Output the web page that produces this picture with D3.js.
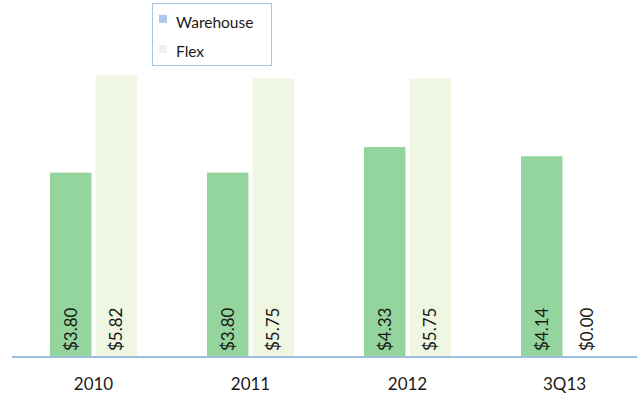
<!DOCTYPE html>
<html>
<head>
<meta charset="utf-8">
<script src="https://cdn.jsdelivr.net/npm/d3@7"></script>
<style>
  html, body { margin: 0; padding: 0; background: #fff; }
  svg { display: block; }
  text { font-family: Lato, "Open Sans", sans-serif; }
</style>
</head>
<body>
<svg id="chart" width="637" height="398"></svg>
<script>
const categories = ["2010", "2011", "2012", "3Q13"];
const seriesNames = ["Warehouse", "Flex"];
const warehouse = [3.80, 3.80, 4.33, 4.14];
const flex = [5.82, 5.75, 5.75, 0.00];
const seriesColors = ["#93d59c", "#eff7e2"];
const legendSwatches = ["#abc9ea", "#f1f2ef"];

const values = [warehouse, flex];
const svg = d3.select("#chart");
const baseY = 356;

const x0 = d3.scaleBand().domain(categories).range([15, 643]).paddingInner(0).paddingOuter(0);
const x1 = d3.scaleBand().domain(seriesNames).range([35, 122]).paddingInner(0.09);
const y = d3.scaleLinear().domain([0, 6]).range([baseY, baseY - 289.5]);

const groups = svg.selectAll("g.cat")
  .data(categories)
  .join("g")
  .attr("class", "cat")
  .attr("transform", d => `translate(${x0(d)},0)`);

seriesNames.forEach((name, si) => {
  groups.append("rect")
    .attr("x", x1(name))
    .attr("width", x1.bandwidth())
    .attr("y", (d, i) => y(values[si][i]))
    .attr("height", (d, i) => baseY - y(values[si][i]))
    .attr("fill", seriesColors[si]);

  groups.append("text")
    .attr("transform", () => `translate(${x1(name) + x1.bandwidth() / 2 + 6},${baseY - 5}) rotate(-90)`)
    .attr("font-size", 17)
    .attr("fill", "#1a1a1a")
    .text((d, i) => "$" + values[si][i].toFixed(2));
});

// baseline axis
svg.append("line")
  .attr("x1", 12).attr("x2", 637)
  .attr("y1", baseY + 1).attr("y2", baseY + 1)
  .attr("stroke", "#9cbde2").attr("stroke-width", 2);

// category labels
const xAxis = d3.axisBottom(x0).tickSize(0).tickPadding(0);
const ax = svg.append("g").attr("transform", `translate(0,${baseY + 22})`).call(xAxis);
ax.select(".domain").remove();
ax.selectAll("text")
  .attr("font-size", 17)
  .attr("fill", "#1a1a1a")
  .attr("font-family", "Lato, 'Open Sans', sans-serif")
  .attr("dy", "0.71em");

// legend
const lg = svg.append("g");
lg.append("rect")
  .attr("x", 152.5).attr("y", 3.5).attr("width", 119).attr("height", 62)
  .attr("fill", "#fff").attr("stroke", "#a8c6e8").attr("stroke-width", 1);
seriesNames.forEach((name, i) => {
  lg.append("rect")
    .attr("x", 159).attr("y", 15 + i * 30).attr("width", 8).attr("height", 8)
    .attr("fill", legendSwatches[i]);
  lg.append("text")
    .attr("x", 176).attr("y", 28 + i * 29)
    .attr("font-size", 15.5)
    .attr("fill", "#1a1a1a")
    .text(name);
});
</script>
</body>
</html>
